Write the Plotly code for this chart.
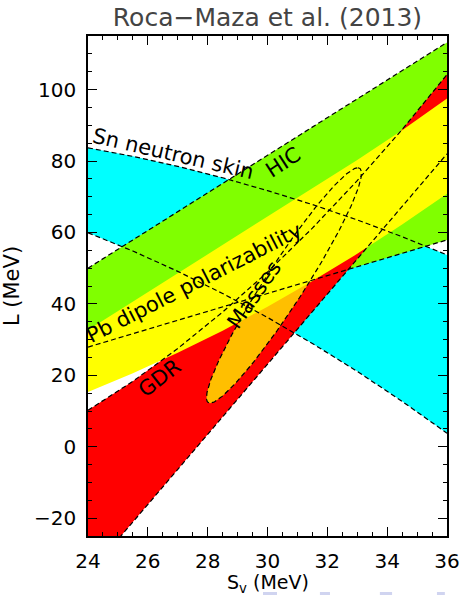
import numpy as np
import plotly.graph_objects as go

# Symmetry energy S_v (MeV) sampling for the curved band edges
S_GRID = [24.0, 25.5, 27.0, 28.5, 30.0, 31.5, 33.0, 34.5, 36.0]

# Sn neutron skin band: L (MeV) on S_GRID
SN_UPPER = [83.7, 81.3, 78.5, 75.3, 71.7, 67.8, 63.5, 58.8, 53.7]
SN_LOWER = [59.9, 54.8, 49.1, 42.9, 36.2, 28.9, 21.1, 12.7, 3.8]

# Heavy-ion collision band (straight edges)
HIC_S = [24.0, 36.0]
HIC_UPPER = [50.0, 113.2]
HIC_LOWER = [27.9, 57.9]

# Giant dipole resonance band
GDR_UPPER = [10.2, 18.3, 27.5, 37.7, 48.9, 61.2, 74.5, 88.8, 104.2]
GDR_LOWER_S = [24.0, 36.0]
GDR_LOWER = [-35.8, 82.0]

# 208Pb dipole polarizability band
PB_UPPER = [32.7, 40.6, 48.5, 56.4, 64.3, 72.3, 80.3, 88.6, 97.5]
PB_LOWER = [15.3, 20.6, 26.3, 32.5, 39.2, 46.4, 54.0, 62.2, 70.8]

# Nuclear masses contour (ellipse): centre, offset to upper tip, half width
MASSES_CENTER = [30.55, 45.15]
MASSES_TIP = [2.47, 32.95]
MASSES_HALF_WIDTH = 0.78

X_TICKS = [24, 26, 28, 30, 32, 34, 36]
Y_TICKS = [-20, 0, 20, 40, 60, 80, 100]

FONT = "DejaVu Sans"
DASH = "5px,3px"


def band(xs_up, up, xs_lo, lo):
    xs = list(xs_up) + list(xs_lo)[::-1]
    ys = list(up) + list(lo)[::-1]
    return xs, ys


def filled(xs, ys, color):
    return go.Scatter(x=xs, y=ys, mode="lines", fill="toself", fillcolor=color,
                      line=dict(width=0, color=color), hoverinfo="skip",
                      showlegend=False)


def dashed(xs, ys):
    return go.Scatter(x=xs, y=ys, mode="lines",
                      line=dict(color="black", width=1.2, dash=DASH),
                      hoverinfo="skip", showlegend=False)


t = np.linspace(0.0, 2.0 * np.pi, 241)
ell_x = MASSES_CENTER[0] + MASSES_TIP[0] * np.cos(t) + MASSES_HALF_WIDTH * np.sin(t)
ell_y = MASSES_CENTER[1] + MASSES_TIP[1] * np.cos(t)

fig = go.Figure()

# filled regions, back to front
fig.add_trace(filled(*band(S_GRID, SN_UPPER, S_GRID, SN_LOWER), "#00FFFF"))
fig.add_trace(filled(*band(HIC_S, HIC_UPPER, HIC_S, HIC_LOWER), "#80FF00"))
fig.add_trace(filled(*band(S_GRID, GDR_UPPER, GDR_LOWER_S, GDR_LOWER), "#FF0000"))
fig.add_trace(filled(ell_x, ell_y, "#FFBF00"))
fig.add_trace(filled(*band(S_GRID, PB_UPPER, S_GRID, PB_LOWER), "#FFFF00"))

# dashed contours on top
fig.add_trace(dashed(S_GRID, SN_UPPER))
fig.add_trace(dashed(S_GRID, SN_LOWER))
fig.add_trace(dashed(HIC_S, HIC_UPPER))
fig.add_trace(dashed(HIC_S, HIC_LOWER))
fig.add_trace(dashed(S_GRID, GDR_UPPER))
fig.add_trace(dashed(GDR_LOWER_S, GDR_LOWER))
fig.add_trace(dashed(ell_x, ell_y))

labels = [
    ("Sn neutron skin", 26.85, 81.9, 13),
    ("HIC", 30.55, 79.6, -33),
    ("Pb dipole polarizability", 27.55, 45.9, -27),
    ("Masses", 29.55, 42.5, -55),
    ("GDR", 26.4, 19.3, -38),
]
for text, x, y, ang in labels:
    fig.add_annotation(x=x, y=y, text=text, textangle=ang, showarrow=False,
                       font=dict(family=FONT, size=21, color="black"))

# x-axis title placed below the tick labels
fig.add_annotation(x=0.5, y=-0.094, xref="paper", yref="paper",
                   text="S<sub>v</sub> (MeV)", showarrow=False, yanchor="middle",
                   font=dict(family=FONT, size=19, color="black"))

# faint marks along the bottom edge
for x0, x1 in [(0.4875, 0.5265), (0.646, 0.674), (0.813, 0.847), (0.972, 0.994)]:
    fig.add_shape(type="rect", xref="paper", yref="paper", x0=x0, x1=x1,
                  y0=-0.118, y1=-0.112, line=dict(width=0), fillcolor="#D0D4F0")

axis_common = dict(
    showline=True, linecolor="black", linewidth=1.5, mirror="ticks",
    ticks="inside", ticklen=9, tickwidth=1, tickcolor="black",
    showgrid=False, zeroline=False, automargin=False,
    tickfont=dict(family=FONT, size=20, color="black"),
)

fig.update_xaxes(range=[24, 36], tickvals=X_TICKS,
                 minor=dict(dtick=0.5, ticks="inside", ticklen=4, tickcolor="black",
                            showgrid=False),
                 ticklabelstandoff=6, **axis_common)
fig.update_yaxes(range=[-25, 115], tickvals=Y_TICKS,
                 minor=dict(dtick=5, ticks="inside", ticklen=4, tickcolor="black",
                            showgrid=False),
                 title=dict(text="L (MeV)",
                            font=dict(family=FONT, size=21, color="black")),
                 ticklabelstandoff=6, **axis_common)

fig.update_layout(
    width=461, height=595,
    margin=dict(l=88, r=14, t=36, b=59, autoexpand=False),
    paper_bgcolor="white", plot_bgcolor="white",
    title=dict(text="Roca\u2212Maza et al. (2013)", x=0.5, xref="paper",
               y=1 - 17 / 595, yref="container", yanchor="middle",
               font=dict(family=FONT, size=25, color="#444444")),
    showlegend=False,
)

fig.write_html("out.html")
